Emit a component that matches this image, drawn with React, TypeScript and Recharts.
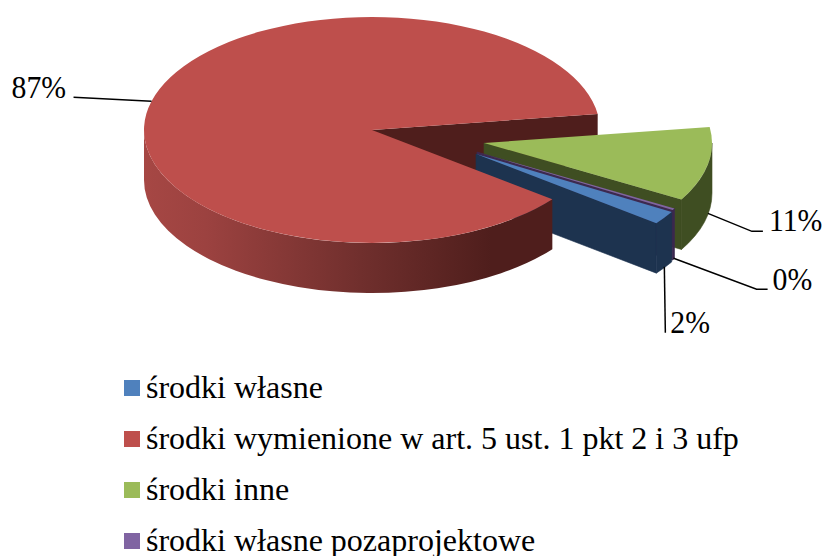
import React from "react";
import { PieChart, Pie, Legend } from "recharts";

// legend order
const categories = [
  "środki własne",
  "środki wymienione w art. 5 ust. 1 pkt 2 i 3 ufp",
  "środki inne",
  "środki własne pozaprojektowe",
];
const values = [1.9, 87.2, 10.6, 0.25];
const colors = ["#4F81BD", "#BE4F4C", "#9BBB59", "#8064A2"];
const sideColors = ["#1D334F", "#4F1E1C", "#3F4E22", "#3D2950"];

// slices are drawn back to front, so the pie starts at the green one
const drawOrder = [2, 3, 0, 1];

const FONT = "'Liberation Serif', serif";
const SQUASH = 0.4956;
const DEPTH = 50;

// how far each slice is pulled out of the pie
const explode = [
  { dx: 104, dy: 24 },
  { dx: 0, dy: 0 },
  { dx: 112, dy: 13 },
  { dx: 105, dy: 22 },
];

// leader lines, relative to the slice's rim point
const leaders = [
  { elbow: [1, 66], end: [1, 66], text: [6, 66] },
  { elbow: [-78, -4], end: [-78, -4], text: [-140, -3] },
  { elbow: [44, 18], end: [55, 18], text: [61, 18] },
  { elbow: [83, 31], end: [94, 31], text: [99, 32] },
];

const pieData = drawOrder.map((i) => ({
  name: categories[i],
  value: values[i],
  fill: colors[i],
  side: sideColors[i],
  index: i,
}));

const rad = (a: number) => (a * Math.PI) / 180;

function project(p: any, angle: number, radius: number, drop = 0) {
  const off = explode[p.payload?.index ?? p.index];
  return {
    x: p.cx + off.dx + radius * Math.cos(rad(angle)),
    y: p.cy + off.dy - radius * SQUASH * Math.sin(rad(angle)) + drop,
  };
}

function arcTo(pt: { x: number; y: number }, r: number, large: boolean, sweep: boolean) {
  return `A${r} ${r * SQUASH} 0 ${large ? 1 : 0} ${sweep ? 1 : 0} ${pt.x} ${pt.y}`;
}

function topPath(p: any) {
  const apex = project(p, 0, 0);
  const a = project(p, p.startAngle, p.outerRadius);
  const b = project(p, p.endAngle, p.outerRadius);
  const large = Math.abs(p.startAngle - p.endAngle) > 180;
  return `M${apex.x} ${apex.y}L${a.x} ${a.y}${arcTo(b, p.outerRadius, large, true)}Z`;
}

function endFacePath(p: any) {
  const a = project(p, 0, 0);
  const b = project(p, p.endAngle, p.outerRadius);
  const c = project(p, p.endAngle, p.outerRadius, DEPTH);
  const d = project(p, 0, 0, DEPTH);
  return `M${a.x} ${a.y}L${b.x} ${b.y}L${c.x} ${c.y}L${d.x} ${d.y}Z`;
}

// outer wall, only the part on the lower half of the ellipse
function wallPaths(p: any) {
  const out: string[] = [];
  for (const k of [0, -360]) {
    const from = Math.min(p.startAngle, k);
    const to = Math.max(p.endAngle, k - 180);
    if (from <= to) continue;
    const a = project(p, from, p.outerRadius);
    const b = project(p, to, p.outerRadius);
    const c = project(p, to, p.outerRadius, DEPTH);
    const d = project(p, from, p.outerRadius, DEPTH);
    const r = p.outerRadius;
    out.push(`M${a.x} ${a.y}${arcTo(b, r, false, true)}L${c.x} ${c.y}${arcTo(d, r, false, false)}Z`);
  }
  return out;
}

function isLargest(p: any) {
  return p.value > 50;
}

function BackFace(p: any) {
  if (!isLargest(p)) return <g />;
  return <path d={endFacePath(p)} fill={p.side ?? p.payload.side} />;
}

function Slice(p: any) {
  const side = p.side ?? p.payload.side;
  const large = isLargest(p);
  const wallFill = large ? "url(#redWall)" : side;
  return (
    <g>
      {!large && <path d={endFacePath(p)} fill={side} stroke={side} strokeWidth={0.6} />}
      {wallPaths(p).map((d, i) => (
        <path key={i} d={d} fill={wallFill} stroke={large ? "none" : side} strokeWidth={0.6} />
      ))}
      <path d={topPath(p)} fill={p.fill} />
    </g>
  );
}

function SliceLabel(p: any) {
  const i = p.payload?.index ?? p.index;
  const l = leaders[i];
  const mid = ((p.startAngle + p.endAngle) / 2 + 720) % 360;
  const front = mid > 180;
  const at = project({ ...p, index: i }, mid, p.outerRadius, front ? DEPTH - 1 : 0);
  const tx = at.x + l.text[0];
  const ty = at.y + l.text[1];
  return (
    <g>
      <polyline
        points={`${at.x},${at.y} ${at.x + l.elbow[0]},${at.y + l.elbow[1]} ${at.x + l.end[0]},${at.y + l.end[1]}`}
        fill="none"
        stroke="#000"
        strokeWidth={1.5}
      />
      <text
        transform={`translate(${tx} ${ty}) scale(0.93 1)`}
        fontFamily={FONT}
        fontSize={32}
        fill="#000"
      >
        {Math.round(p.value)}%
      </text>
    </g>
  );
}

function ChartLegend() {
  return (
    <div style={{ position: "relative", width: 825, height: 0 }}>
      {categories.map((name, i) => (
        <div key={name} style={{ position: "absolute", left: 124, top: 380 + i * 51, whiteSpace: "nowrap" }}>
          <span style={{ position: "absolute", left: 0, top: 0, width: 16, height: 16, background: colors[i] }} />
          <span
            style={{
              position: "absolute",
              left: 22,
              top: -9,
              fontFamily: FONT,
              fontSize: 32,
              lineHeight: "33px",
              color: "#000",
            }}
          >
            {name}
          </span>
        </div>
      ))}
    </div>
  );
}

export default function App() {
  return (
    <div style={{ position: "absolute", left: 0, top: 0, width: 825, height: 556, background: "#fff", overflow: "hidden" }}>
      <PieChart width={825} height={556} margin={{ top: 0, right: 0, bottom: 0, left: 0 }}>
        <defs>
          <linearGradient id="redWall" x1="0" y1="0" x2="1" y2="0">
            <stop offset="0" stopColor="#A64744" />
            <stop offset="0.15" stopColor="#9C4240" />
            <stop offset="0.55" stopColor="#6E2E2C" />
            <stop offset="0.85" stopColor="#4F1E1C" />
            <stop offset="1" stopColor="#4F1E1C" />
          </linearGradient>
        </defs>
        <Pie
          data={pieData}
          dataKey="value"
          nameKey="name"
          cx={372}
          cy={130}
          outerRadius={228}
          startAngle={8.2}
          endAngle={-351.8}
          stroke="none"
          legendType="none"
          isAnimationActive={false}
          shape={BackFace}
        />
        <Pie
          data={pieData}
          dataKey="value"
          nameKey="name"
          cx={372}
          cy={130}
          outerRadius={228}
          startAngle={8.2}
          endAngle={-351.8}
          stroke="none"
          legendType="none"
          isAnimationActive={false}
          shape={Slice}
          label={SliceLabel}
          labelLine={false}
        />
        <Legend content={<ChartLegend />} wrapperStyle={{ left: 0, top: 0, width: 825, height: 0 }} />
      </PieChart>
    </div>
  );
}
